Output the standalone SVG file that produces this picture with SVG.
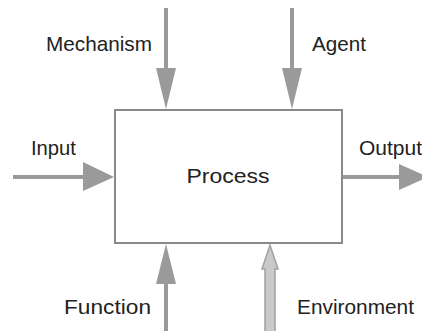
<svg xmlns="http://www.w3.org/2000/svg" width="422" height="331" viewBox="0 0 422 331">
<style>
text{font-family:"Liberation Sans",Arial,sans-serif;font-size:21px;fill:#222}
.ln{stroke:#9a9a9a;stroke-width:4;fill:none}
.hd{fill:#9a9a9a}
.box{fill:#fff;stroke:#8a8a8a;stroke-width:2}
</style>
<rect width="422" height="331" fill="#fff"/>
<g id="connectors">
<line class="ln" x1="166" y1="8" x2="166" y2="70"/>
<path class="hd" d="M156,68 L176,68 L166,109 Z"/>
<line class="ln" x1="292" y1="8" x2="292" y2="70"/>
<path class="hd" d="M282,68 L302,68 L292,109 Z"/>
<line class="ln" x1="13" y1="177" x2="85" y2="177"/>
<path class="hd" d="M83,162 L83,191 L114,177 Z"/>
<line class="ln" x1="342" y1="177" x2="401" y2="177"/>
<path class="hd" d="M399,164 L399,190 L428,177 Z"/>
<line class="ln" x1="166" y1="282" x2="166" y2="331"/>
<path class="hd" d="M156,284 L176,284 L166,244 Z"/>
<path d="M265,332 L265,269 L262,269 L270,245 L278,269 L275,269 L275,332" fill="#c9c9c9" stroke="#a0a0a0" stroke-width="1.5"/>
</g>
<g id="process">
<rect class="box" x="115" y="110" width="227" height="133"/>
<text x="228" y="183" text-anchor="middle" textLength="83" lengthAdjust="spacingAndGlyphs">Process</text>
</g>
<g id="mechanism"><text x="46" y="51" textLength="106" lengthAdjust="spacingAndGlyphs">Mechanism</text></g>
<g id="agent"><text x="312" y="51" textLength="54" lengthAdjust="spacingAndGlyphs">Agent</text></g>
<g id="input"><text x="31" y="155" textLength="45" lengthAdjust="spacingAndGlyphs">Input</text></g>
<g id="output"><text x="359" y="155">Output</text></g>
<g id="function"><text x="64" y="314" textLength="87" lengthAdjust="spacingAndGlyphs">Function</text></g>
<g id="environment"><text x="297" y="314" textLength="117" lengthAdjust="spacingAndGlyphs">Environment</text></g>
</svg>
